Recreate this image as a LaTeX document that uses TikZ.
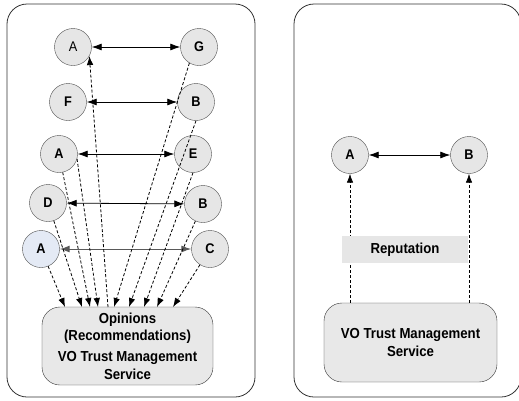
\documentclass[tikz,border=0pt]{standalone}
\usepackage{fontspec}
\setmainfont{Liberation Sans}[FakeStretch=0.91]
\usetikzlibrary{arrows.meta}
\definecolor{peerfill}{HTML}{E6E6E6}
\definecolor{peerblau}{HTML}{E4EAF5}
\definecolor{dienstfill}{HTML}{E8E8E8}
\definecolor{rahmen}{HTML}{333333}
\begin{document}
\begin{tikzpicture}[x=1pt,y=-1pt,
	peer/.style={circle,draw=black!70,fill=peerfill,minimum size=37pt,inner sep=0pt,font=\bfseries\fontsize{14}{16}\selectfont},
	dienst/.style={draw=rahmen,fill=dienstfill,rounded corners=18pt,align=center,inner sep=0pt,font=\bfseries\fontsize{14.5}{17.4}\selectfont},
	bez/.style={line width=0.8pt,{Latex[length=10pt,width=7pt]}-{Latex[length=10pt,width=7pt]}},
	meinung/.style={line width=0.8pt,dash pattern=on 3pt off 2pt,-{Latex[length=9pt,width=6.5pt]}}]
	\useasboundingbox (0,0) rectangle (519,400);
	\draw [rahmen,line width=0.8pt,rounded corners=20pt] (7,4) rectangle (255,397);
	\draw [rahmen,line width=0.8pt,rounded corners=20pt] (294,4) rectangle (521,397);

	\node [peer,font=\fontsize{14}{16}\selectfont] (a1) at (73,47) {A};
	\node [peer] (g1) at (199,47) {G};
	\node [peer] (f1) at (68,102) {F};
	\node [peer] (b1) at (196,102) {B};
	\node [peer] (a2) at (59,154) {A};
	\node [peer] (e1) at (193,154) {E};
	\node [peer] (d1) at (48,203) {D};
	\node [peer] (b2) at (203,204) {B};
	\node [peer,fill=peerblau] (a3) at (41,249) {A};
	\node [peer] (c1) at (210,249) {C};
	\node [dienst,minimum width=171pt,minimum height=78pt] (vo) at (127.5,346) {Opinions\\(Recommendations)\\[4pt]VO Trust Management\\Service};

	\coordinate (t1) at (65,307);
	\coordinate (t2) at (82,307);
	\coordinate (t3) at (90,307);
	\coordinate (t4) at (98,307);
	\coordinate (up) at (108,307);
	\coordinate (t5) at (114,307);
	\coordinate (t6) at (129,307);
	\coordinate (t7) at (144,307);
	\coordinate (t8) at (157,307);
	\coordinate (t9) at (173,307);

	\draw [bez] (a1) -- (g1);
	\draw [bez] (f1) -- (b1);
	\draw [bez] (a2) -- (e1);
	\draw [bez] (d1) -- (b2);
	\draw [bez,draw=black!65,line width=1pt] (a3) -- (c1);

	\draw [meinung] (a3) -- (t1);
	\draw [meinung] (d1) -- (t2);
	\draw [meinung] (a2) -- (t3);
	\draw [meinung] (a2.-15) -- (t4);
	\draw [meinung] (up) -- (a1.-29);
	\draw [meinung] (g1.239) -- (t5);
	\draw [meinung] (b1.south) -- (t6);
	\draw [meinung] (e1.south) -- (t7);
	\draw [meinung] (b2) -- (t8);
	\draw [meinung] (c1) -- (t9);

	\node [peer] (ra) at (350,155) {A};
	\node [peer] (rb) at (469,155) {B};
	\node [dienst,minimum width=173pt,minimum height=79pt] (vo2) at (410.5,342.5) {VO Trust Management\\Service};
	\draw [bez] (ra) -- (rb);
	\draw [meinung] (vo2.north -| ra) -- (ra);
	\draw [meinung] (vo2.north -| rb) -- (rb);
	\node [fill=peerfill,minimum width=126pt,minimum height=27pt,inner sep=0pt,font=\bfseries\fontsize{14.5}{17.4}\selectfont] (rep) at (405,249.5) {Reputation};
\end{tikzpicture}
\end{document}
